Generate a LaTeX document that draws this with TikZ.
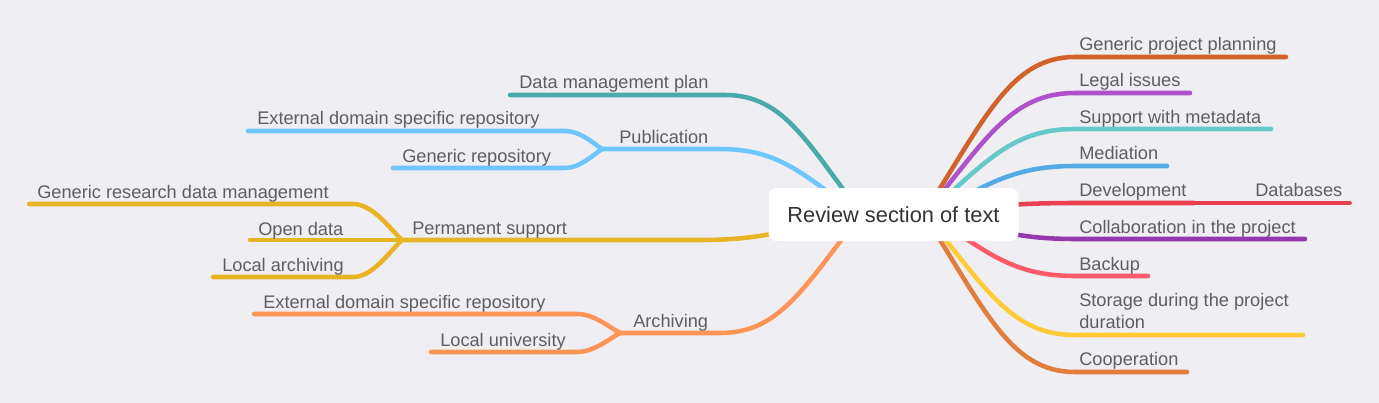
\documentclass[tikz,border=0pt]{standalone}
\usepackage{fontspec}
\setmainfont{Liberation Sans}
\pgfdeclarelayer{back}
\pgfdeclarelayer{bg}
\pgfsetlayers{back,bg,main}
\definecolor{bgc}{HTML}{EFEEF3}
\definecolor{txt}{HTML}{5E5E5E}
\definecolor{ctxt}{HTML}{333333}
\definecolor{cDMP}{HTML}{48AAAA}
\definecolor{cPUB}{HTML}{6EC6FF}
\definecolor{cPERM}{HTML}{E8B325}
\definecolor{cARCH}{HTML}{FF9457}
\definecolor{cGPP}{HTML}{D2622A}
\definecolor{cLEG}{HTML}{B051CC}
\definecolor{cSUP}{HTML}{64C9C9}
\definecolor{cMED}{HTML}{55AAE6}
\definecolor{cDEV}{HTML}{E8404F}
\definecolor{cCOL}{HTML}{9338AD}
\definecolor{cBAK}{HTML}{FF5A6A}
\definecolor{cSTO}{HTML}{FFCC38}
\definecolor{cCOO}{HTML}{E37D3C}
\begin{document}
\begin{tikzpicture}[x=0.75pt,y=-0.75pt,
  lbl/.style={anchor=base west,inner sep=0pt,text=txt,font=\fontsize{13.65}{15.8}\selectfont},
  br/.style={line width=3.4pt,line cap=round},
  ctrbox/.style={fill=white,rounded corners=6pt,minimum width=187.5pt,minimum height=39.75pt,inner sep=0pt,text=ctxt,font=\fontsize{16.35}{19}\selectfont}]
\begin{pgfonlayer}{back}
\fill[bgc] (0,0) rectangle (1379,403);
\end{pgfonlayer}
\useasboundingbox (0,0) rectangle (1379,403);

% centre
\node[ctrbox] (c) at (893.5,214.5) {Review section of text};
\coordinate (rt) at (920,220);
\coordinate (rm) at (920,214);
\coordinate (rb) at (920,208);
\coordinate (lt) at (866,220);
\coordinate (lb) at (866,208);

% ---------- right labels
\node[lbl] (gpp) at (1079,51) {Generic project planning};
\node[lbl] (leg) at (1079,87) {Legal issues};
\node[lbl] (sup) at (1079,123) {Support with metadata};
\node[lbl] (med) at (1079,160) {Mediation};
\node[lbl] (dev) at (1079,196) {Development};
\node[lbl] (dba) at (1255,196) {Databases};
\node[lbl] (col) at (1079,233) {Collaboration in the project};
\node[lbl] (bak) at (1079,270) {Backup};
\node[lbl,align=left] (sto) at (1079,328) {Storage during the project\\duration};
\node[lbl] (coo) at (1079,365) {Cooperation};

% ---------- left labels
\node[lbl] (dmp) at (519,89) {Data management plan};
\node[lbl] (pub) at (619,143) {Publication};
\node[lbl] (pex) at (257,125) {External domain specific repository};
\node[lbl] (pge) at (402,162) {Generic repository};
\node[lbl] (per) at (412,234) {Permanent support};
\node[lbl] (grd) at (37,198) {Generic research data management};
\node[lbl] (opd) at (258,235) {Open data};
\node[lbl] (loa) at (222,271) {Local archiving};
\node[lbl] (arc) at (633,327) {Archiving};
\node[lbl] (aex) at (263,308) {External domain specific repository};
\node[lbl] (alu) at (440,346) {Local university};

% ---------- line coordinates
\coordinate (gpp1) at (1075,57);  \coordinate (gpp2) at (1286,57);
\coordinate (leg1) at (1075,93);  \coordinate (leg2) at (1190,93);
\coordinate (sup1) at (1075,129); \coordinate (sup2) at (1271,129);
\coordinate (med1) at (1075,166); \coordinate (med2) at (1167,166);
\coordinate (dev1) at (1075,203); \coordinate (dev2) at (1194,203);
\coordinate (dba2) at (1350,203);
\coordinate (col1) at (1075,239); \coordinate (col2) at (1305,239);
\coordinate (bak1) at (1075,276); \coordinate (bak2) at (1148,276);
\coordinate (sto1) at (1075,335); \coordinate (sto2) at (1303,335);
\coordinate (coo1) at (1075,372); \coordinate (coo2) at (1187,372);

\coordinate (dmp1) at (725,95);  \coordinate (dmp2) at (510,95);
\coordinate (pubJ) at (602,149); \coordinate (pub1) at (720,149);
\coordinate (pex1) at (565,131); \coordinate (pex2) at (248,131);
\coordinate (pge1) at (565,168); \coordinate (pge2) at (393,168);
\coordinate (perJ) at (402,240); \coordinate (per1) at (700,240);
\coordinate (grd1) at (353,204); \coordinate (grd2) at (29,204);
\coordinate (opd2) at (250,240);
\coordinate (loa1) at (353,277); \coordinate (loa2) at (213,277);
\coordinate (arcJ) at (620,333); \coordinate (arc1) at (720,333);
\coordinate (aex1) at (577,314); \coordinate (aex2) at (254,314);
\coordinate (alu1) at (577,352); \coordinate (alu2) at (431,352);

\begin{pgfonlayer}{bg}
% right branches
\draw[br,cGPP] (rt) .. controls (985,119) and (1010,57) .. (gpp1) -- (gpp2);
\draw[br,cLEG] (rt) .. controls (985,141) and (1010,93) .. (leg1) -- (leg2);
\draw[br,cSUP] (rt) .. controls (985,163.6) and (1010,129) .. (sup1) -- (sup2);
\draw[br,cMED] (rt) .. controls (985,186.5) and (1010,166) .. (med1) -- (med2);
\draw[br,cDEV] (rm) .. controls (985,207) and (1010,203) .. (dev1) -- (dev2);
\draw[cDEV,line width=2.8pt,line cap=round] (dev2) -- (dba2);
\draw[br,cCOL] (rb) .. controls (985,227.2) and (1010,239) .. (col1) -- (col2);
\draw[br,cBAK] (rb) .. controls (985,250.2) and (1010,276) .. (bak1) -- (bak2);
\draw[br,cSTO] (rb) .. controls (985,286.7) and (1010,335) .. (sto1) -- (sto2);
\draw[br,cCOO] (rb) .. controls (985,309.7) and (1010,372) .. (coo1) -- (coo2);
% left branches
\draw[br,cDMP] (lt) .. controls (806.8,142.5) and (784.2,95) .. (dmp1) -- (dmp2);
\draw[br,cPUB] (lt) .. controls (804.7,176) and (781.3,149) .. (pub1) -- (pubJ);
\draw[br,cPUB] (pubJ) .. controls (593,143) and (580,131) .. (pex1) -- (pex2);
\draw[br,cPUB] (pubJ) .. controls (593,155) and (580,168) .. (pge1) -- (pge2);
\draw[br,cPERM] (lb) .. controls (796.3,227.8) and (769.7,240) .. (per1) -- (perJ);
\draw[br,cPERM] (perJ) .. controls (390,229) and (373,204) .. (grd1) -- (grd2);
\draw[br,cPERM] (perJ) -- (opd2);
\draw[br,cPERM] (perJ) .. controls (390,251) and (373,277) .. (loa1) -- (loa2);
\draw[br,cARCH] (lb) .. controls (804.7,285.5) and (781.3,333) .. (arc1) -- (arcJ);
\draw[br,cARCH] (arcJ) .. controls (609,327) and (594,314) .. (aex1) -- (aex2);
\draw[br,cARCH] (arcJ) .. controls (609,339) and (594,352) .. (alu1) -- (alu2);
\end{pgfonlayer}
\end{tikzpicture}
\end{document}
